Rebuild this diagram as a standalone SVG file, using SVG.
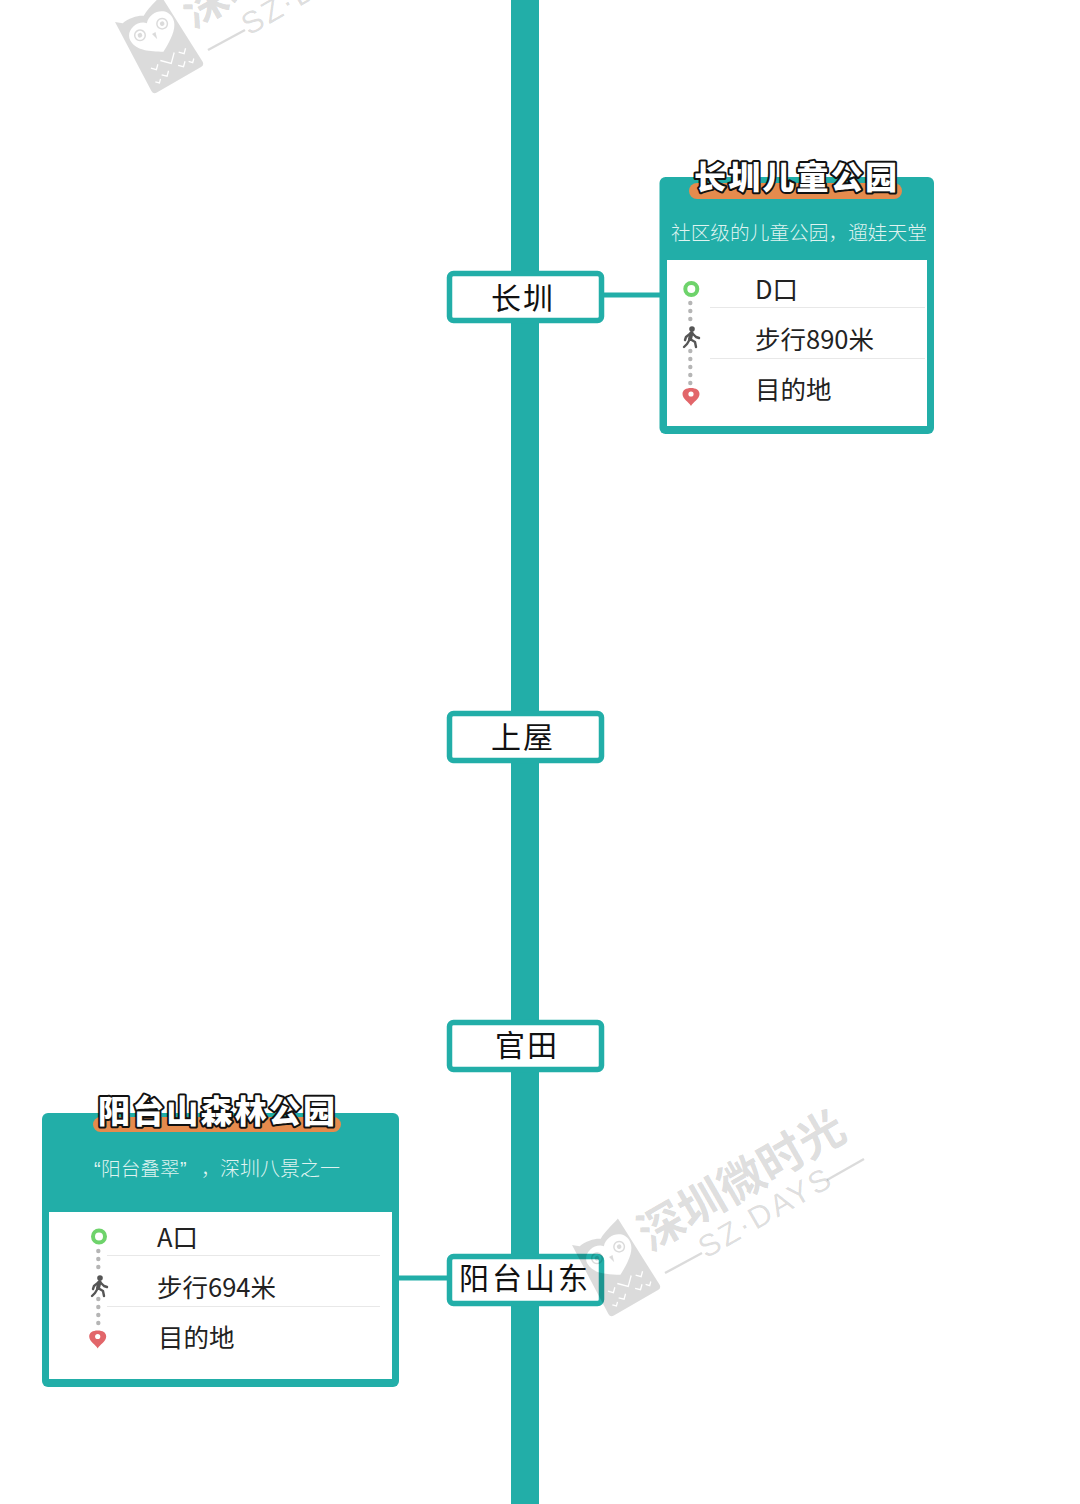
<svg xmlns="http://www.w3.org/2000/svg" width="1080" height="1504" viewBox="0 0 1080 1504">
  <style>
    text { font-family: "Noto Sans CJK SC", "Noto Sans", sans-serif; }
    .teal { fill: #22aea8; }
    .wire { stroke: #22aea8; fill: none; }
    .stn { fill: #fff; stroke: #22aea8; stroke-width: 5.500; }
    .stn-t { font-size: 30px; fill: #111; letter-spacing: 2px; }
    .bar { fill: #e58b4d; }
    .title { font-size: 32px; font-weight: 900; fill: #fff; stroke: #111; stroke-width: 4px; paint-order: stroke; stroke-linejoin: round; }
    .sub { font-size: 19.700px; fill: #dff3f0; font-weight: 300; }
    .row { font-size: 25.500px; fill: #222; }
    .sep { stroke: #e8e8e8; stroke-width: 1.200; }
    .wm { fill: #000; fill-opacity: .14; }
    .wm-line { stroke: #000; stroke-opacity: .14; stroke-width: 2.500; fill: none; }
    .wm-big { font-size: 46px; font-weight: 700; }
    .wm-small { font-family: "Liberation Sans", sans-serif; font-size: 31px; }
    .dots { fill: #b5b5b5; }
  </style>
  <defs>
    <circle id="ring" r="6" fill="#fff" stroke="#6ed36b" stroke-width="4"/>
    <g id="walker" stroke="#555" fill="none" stroke-width="2.400" stroke-linecap="round" stroke-linejoin="round">
      <circle r="2.800" fill="#555" stroke="none"/>
      <path stroke-width="4" d="M-.500 4 L-2 10"/>
      <path d="M-2 10 L-5 15 L-8 18 M-2 10 L3 13 L4 18 M-1 4 L-6 8 L-7 11 M0 4 L4 8 L7 9"/>
    </g>
    <g id="pin">
      <path d="M0 18 C-2 14 -8.500 11 -8.500 6 C-8.500 2 -5 0 0 0 C5 0 8.500 2 8.500 6 C8.500 11 2 14 0 18 Z" fill="#e2666a"/>
      <circle cy="6" r="2.600" fill="#fff"/>
    </g>
    <g id="owl" class="wm">
      <path fill-rule="evenodd" d="M0 0 L6 5 C14 3 24 6 28 9 C34 5 44 3 53 0 L56 78 Q56 82 52 82 L1 82 Q-3 82 -3 78 Z
        M27 50 C16 43 4 36 4 24 C4 13 20 9 27 17 C35 8 52 12 52 25 C52 36 38 44 27 50 Z"/>
      <path fill-rule="evenodd" d="M15 18 a6 6 0 1 0 .01 0 Z M15 19.500 a4.500 4.500 0 1 1 -.01 0 Z M40 19 a6 6 0 1 0 .01 0 Z M40 20.500 a4.500 4.500 0 1 1 -.01 0 Z"/>
      <circle cx="15" cy="24" r="2.300"/>
      <circle cx="40" cy="25" r="2.300"/>
      <path d="M26 29 L30 29 L28 36 Z"/>
      <g fill="none" stroke="#fff" stroke-width="1.300">
        <path d="M20 56 L28 64 L36 56 M8 58 L12 62 L16 58 M40 58 L44 62 L48 58 M14 69 L18 73 L22 69 M33 69 L37 73 L41 69 M5 72 L8 75 L11 72 M44 71 L47 74 L50 71"/>
      </g>
    </g>
  </defs>

  <rect width="1080" height="1504" fill="#fff"/>

  <g id="connectors">
    <rect class="teal" x="511" y="0" width="28" height="1504"/>
    <path class="wire" stroke-width="5" d="M604 295 H660"/>
    <path class="wire" stroke-width="5" d="M399 1278 H447"/>
  </g>

  <g id="stn-changzhen">
    <rect class="stn" x="449.500" y="273.500" width="152" height="47" rx="4"/>
    <text class="stn-t" x="491" y="309">长圳</text>
  </g>
  <g id="stn-shangwu">
    <rect class="stn" x="449.500" y="713.500" width="152" height="47" rx="4"/>
    <text class="stn-t" x="491" y="748">上屋</text>
  </g>
  <g id="stn-guantian">
    <rect class="stn" x="449.500" y="1022.500" width="152" height="47" rx="4"/>
    <text class="stn-t" x="495" y="1056">官田</text>
  </g>
  <g id="stn-yangtaishandong">
    <rect class="stn" x="449.500" y="1256.500" width="152" height="47" rx="4"/>
    <text class="stn-t" x="459" y="1289" style="letter-spacing:3px">阳台山东</text>
  </g>

  <g id="card-children-park">
    <rect class="teal" x="659.500" y="177" width="274.500" height="257" rx="6"/>
    <rect x="667" y="260" width="260" height="166" fill="#fff"/>
    <rect class="bar" x="689" y="183" width="213" height="16" rx="8"/>
    <text class="title" x="694" y="189" textLength="203" lengthAdjust="spacing">长圳儿童公园</text>
    <text class="sub" x="671" y="240">社区级的儿童公园，遛娃天堂</text>
    <use href="#ring" x="691.300" y="289"/>
    <g class="dots">
      <circle cx="690.300" cy="303" r="2.200"/><circle cx="690.300" cy="311" r="2.200"/><circle cx="690.300" cy="319" r="2.200"/>
      <circle cx="690.300" cy="351" r="2.200"/><circle cx="690.300" cy="359" r="2.200"/><circle cx="690.300" cy="367" r="2.200"/><circle cx="690.300" cy="375" r="2.200"/><circle cx="690.300" cy="383" r="2.200"/>
    </g>
    <use href="#walker" x="692" y="329"/>
    <use href="#pin" x="691" y="388"/>
    <line class="sep" x1="710" y1="307.500" x2="925" y2="307.500"/>
    <line class="sep" x1="710" y1="358.500" x2="925" y2="358.500"/>
    <text class="row" x="755" y="299">D口</text>
    <text class="row" x="755" y="349">步行890米</text>
    <text class="row" x="755" y="399">目的地</text>
  </g>

  <g id="card-yangtai-park">
    <rect class="teal" x="42" y="1113" width="357" height="274" rx="6"/>
    <rect x="49" y="1212" width="343" height="167" fill="#fff"/>
    <rect class="bar" x="93" y="1117" width="248" height="15" rx="7.500"/>
    <text class="title" x="98" y="1123" textLength="237" lengthAdjust="spacing">阳台山森林公园</text>
    <text class="sub" y="1176"><tspan x="94" font-family="Liberation Sans">“</tspan><tspan x="101">阳台叠翠</tspan><tspan x="180" font-family="Liberation Sans">”</tspan><tspan x="201">，</tspan><tspan x="220" style="font-size:20px">深圳八景之一</tspan></text>
    <use href="#ring" x="99" y="1236.500"/>
    <g class="dots">
      <circle cx="98.300" cy="1251" r="2.200"/><circle cx="98.300" cy="1259" r="2.200"/><circle cx="98.300" cy="1267" r="2.200"/>
      <circle cx="98.300" cy="1299" r="2.200"/><circle cx="98.300" cy="1307" r="2.200"/><circle cx="98.300" cy="1315" r="2.200"/><circle cx="98.300" cy="1323" r="2.200"/>
    </g>
    <use href="#walker" x="100" y="1278"/>
    <use href="#pin" x="97.700" y="1330.500"/>
    <line class="sep" x1="107" y1="1255.500" x2="380" y2="1255.500"/>
    <line class="sep" x1="107" y1="1306.500" x2="380" y2="1306.500"/>
    <text class="row" x="157" y="1247">A口</text>
    <text class="row" x="157" y="1297">步行694米</text>
    <text class="row" x="158" y="1347">目的地</text>
  </g>

  <!-- faded brand stamps laid over the map -->
  <g id="stamp-top">
    <use href="#owl" transform="translate(115 22) rotate(-30)"/>
    <text class="wm wm-big" transform="translate(193 29) rotate(-30)">深圳微时光</text>
    <path class="wm-line" d="M208 50 L245 30"/>
    <text class="wm wm-small" transform="translate(249 36) rotate(-30)" textLength="147">SZ·DAYS</text>
  </g>
  <g id="stamp-bottom">
    <use href="#owl" transform="translate(572 1245) rotate(-30)"/>
    <text class="wm wm-big" transform="translate(650 1252) rotate(-30)">深圳微时光</text>
    <path class="wm-line" d="M665 1273 L702 1253 M827 1180 L864 1159"/>
    <text class="wm wm-small" transform="translate(706 1259) rotate(-30)" textLength="147">SZ·DAYS</text>
  </g>
</svg>
